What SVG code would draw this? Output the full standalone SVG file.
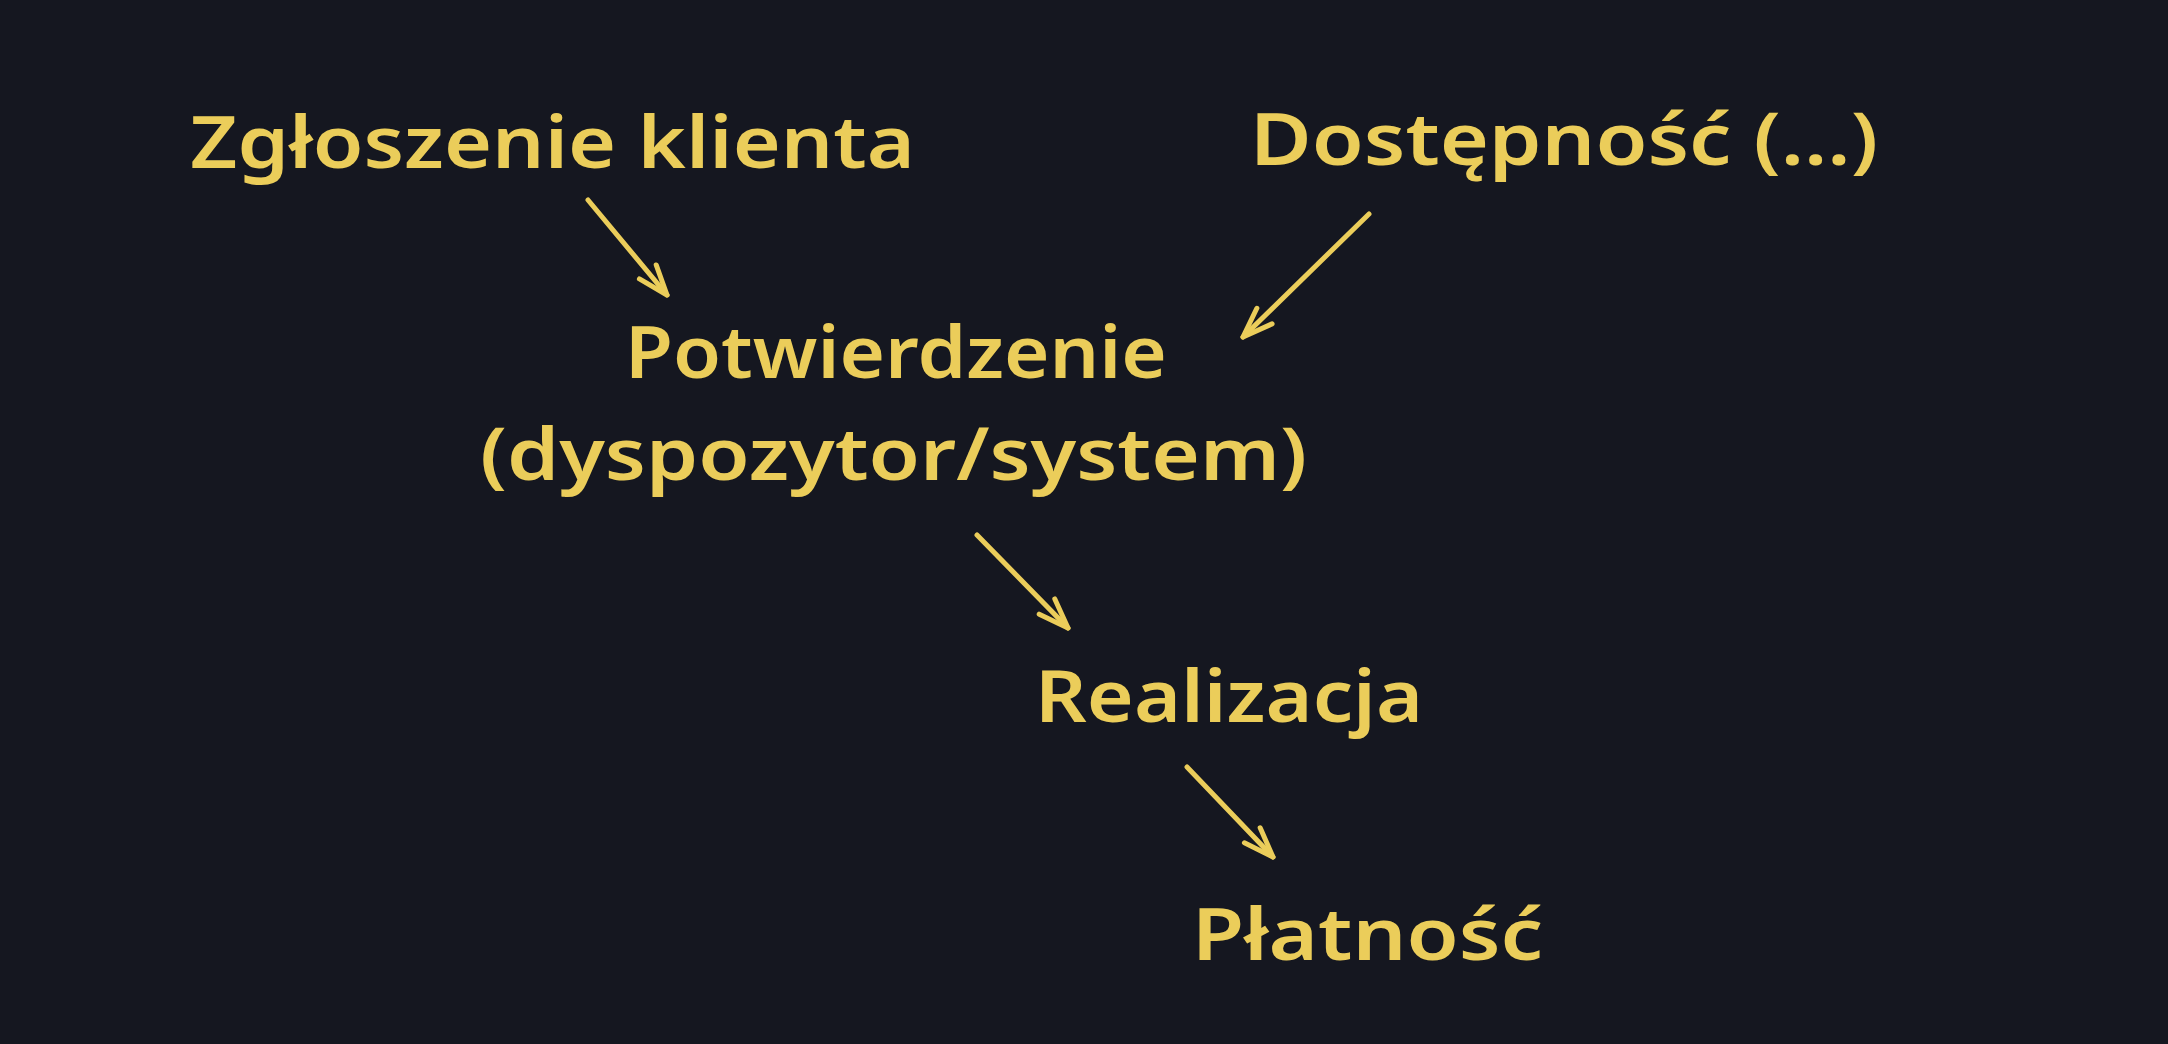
<svg xmlns="http://www.w3.org/2000/svg" width="2168" height="1044" viewBox="0 0 2168 1044">
  <style>
    .lbl { font-family: "Noto Sans", "Open Sans", "Liberation Sans", sans-serif; font-size: 72px; font-weight: 600; fill: #ebcd5a; }
    .edge { fill: none; stroke: #ebcd5a; stroke-width: 5; stroke-linecap: round; stroke-linejoin: round; }
  </style>
  <defs>
    <marker id="head" markerUnits="userSpaceOnUse" markerWidth="40" markerHeight="30" viewBox="-40 -15 44 30" refX="0" refY="0" orient="auto" overflow="visible">
      <path d="M -33 -12 L 0 0 L -33 12" fill="none" stroke="#ebcd5a" stroke-width="5.5" stroke-linecap="round" stroke-linejoin="round"/>
    </marker>
  </defs>
  <rect x="0" y="0" width="2168" height="1044" fill="#151720"/>

  <g id="connectors">
    <path class="edge" d="M 588 200 L 667 295" marker-end="url(#head)"/>
    <path class="edge" d="M 1369 214 L 1243 337" marker-end="url(#head)"/>
    <path class="edge" d="M 977 535 L 1068 628" marker-end="url(#head)"/>
    <path class="edge" d="M 1187 767 L 1273 857" marker-end="url(#head)"/>
  </g>

  <g id="node-zgloszenie">
    <text class="lbl" x="190" y="168" textLength="725" lengthAdjust="spacingAndGlyphs">Zgłoszenie klienta</text>
  </g>
  <g id="node-dostepnosc">
    <text class="lbl" x="1250" y="165" textLength="628" lengthAdjust="spacingAndGlyphs">Dostępność (...)</text>
  </g>
  <g id="node-potwierdzenie">
    <text class="lbl" x="625" y="378" textLength="542" lengthAdjust="spacingAndGlyphs">Potwierdzenie</text>
    <text class="lbl" x="480" y="480" textLength="827" lengthAdjust="spacingAndGlyphs">(dyspozytor/system)</text>
  </g>
  <g id="node-realizacja">
    <text class="lbl" x="1035" y="722" textLength="388" lengthAdjust="spacingAndGlyphs">Realizacja</text>
  </g>
  <g id="node-platnosc">
    <text class="lbl" x="1192" y="960" textLength="351" lengthAdjust="spacingAndGlyphs">Płatność</text>
  </g>
</svg>
